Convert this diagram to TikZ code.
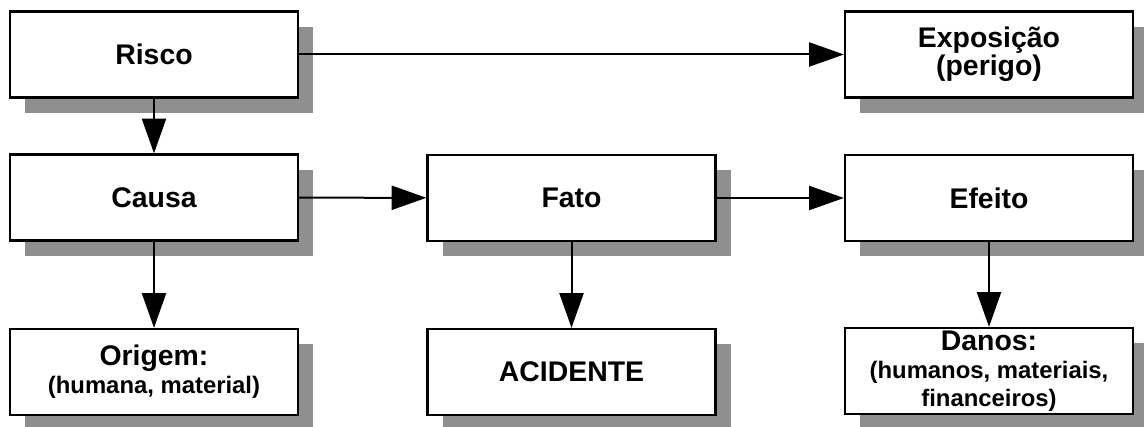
\documentclass[tikz,border=0pt]{standalone}
\usepackage{fontspec}
\setmainfont{Liberation Sans}
\usetikzlibrary{arrows.meta,shadows}
\definecolor{sombra}{HTML}{8F8F8F}
\newcommand{\pequeno}{\fontsize{17.9}{19.5}\selectfont}
\tikzset{
  caixa/.style={draw=black, line width=1.7pt, fill=white, inner sep=0pt,
    minimum width=216pt, minimum height=64.5pt, align=center,
    font=\fontsize{21.3}{21}\selectfont\bfseries,
    drop shadow={shadow xshift=11.25pt, shadow yshift=-11.5pt, fill=sombra, opacity=1}},
  seta/.style={line width=1.5pt, -{Triangle[length=26pt,width=18pt]}},
}
\begin{document}
\begin{tikzpicture}[x=0.75pt,y=-0.75pt]
\useasboundingbox (0,0) rectangle (1144,427);
\node[caixa] (risco) at (154,54.5) {Risco};
\node[caixa] (expo) at (989,54.5) {Exposição\\(perigo)};
\node[caixa] (causa) at (154,197.5) {Causa};
\node[caixa] (fato) at (571.5,198) {Fato};
\node[caixa] (efeito) at (989,198) {Efeito};
\node[caixa] (origem) at (154,372) {Origem:\\{\pequeno (humana, material)}};
\node[caixa] (acidente) at (571.5,372) {ACIDENTE};
\node[caixa] (danos) at (989,371) {Danos:\\{\pequeno (humanos, materiais,}\\{\pequeno financeiros)}};
\draw[seta] (risco) -- (expo);
\draw[seta] (risco) -- (causa);
\draw[seta] (causa) -- (fato);
\draw[seta] (fato) -- (efeito);
\draw[seta] (causa) -- (origem);
\draw[seta] (fato) -- (acidente);
\draw[seta] (efeito) -- (danos);
\end{tikzpicture}
\end{document}
